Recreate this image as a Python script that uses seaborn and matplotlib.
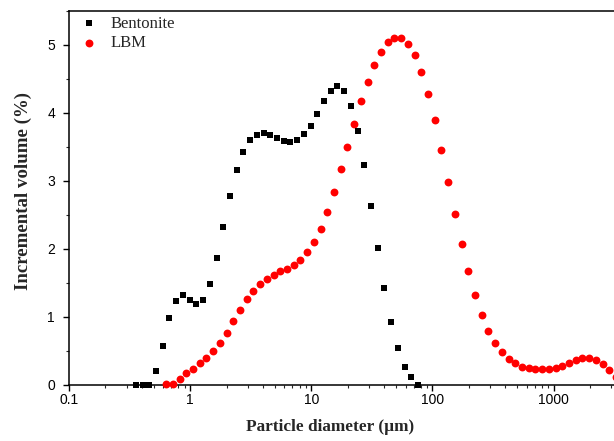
import matplotlib
matplotlib.use("Agg")
import matplotlib.pyplot as plt
import numpy as np
import pandas as pd
import seaborn as sns
from matplotlib.ticker import LogLocator, MultipleLocator, FixedLocator, FixedFormatter, NullFormatter

# ---- data ----
bent_size = [0.357, 0.405, 0.460, 0.523, 0.594, 0.675, 0.767, 0.872, 0.991, 1.125,
             1.279, 1.453, 1.651, 1.876, 2.131, 2.421, 2.751, 3.126, 3.551, 4.035,
             4.584, 5.208, 5.917, 6.723, 7.638, 8.678, 9.859, 11.20, 12.73, 14.46,
             16.43, 18.67, 21.21, 24.10, 27.38, 31.11, 35.34, 40.15, 45.62, 51.83,
             58.89, 66.91, 76.02]
bent_vol = [0.0, 0.0, 0.0, 0.21, 0.58, 0.98, 1.24, 1.32, 1.25, 1.19,
            1.25, 1.49, 1.87, 2.32, 2.78, 3.16, 3.43, 3.60, 3.68, 3.70,
            3.68, 3.63, 3.59, 3.57, 3.60, 3.69, 3.81, 3.99, 4.18, 4.33,
            4.40, 4.33, 4.11, 3.74, 3.23, 2.63, 2.02, 1.43, 0.92, 0.54,
            0.27, 0.12, 0.0]

lbm_size = [0.633, 0.719, 0.818, 0.929, 1.056, 1.199, 1.363, 1.549, 1.760, 2.000,
            2.271, 2.581, 2.932, 3.332, 3.785, 4.301, 4.886, 5.551, 6.307, 7.166,
            8.141, 9.250, 10.51, 11.94, 13.57, 15.41, 17.51, 19.90, 22.61, 25.69,
            29.18, 33.16, 37.67, 42.80, 48.63, 55.25, 62.77, 71.32, 81.03, 92.06,
            104.6, 118.8, 135.0, 153.4, 174.3, 198.0, 225.0, 255.7, 290.5, 330.0,
            375.0, 426.0, 484.0, 549.9, 624.8, 709.9, 806.6, 916.4, 1041, 1183,
            1344, 1527, 1735, 1971, 2239, 2544, 2891, 3285]
lbm_vol = [0.01, 0.02, 0.09, 0.17, 0.24, 0.32, 0.40, 0.50, 0.62, 0.77,
           0.94, 1.11, 1.26, 1.38, 1.48, 1.56, 1.62, 1.67, 1.71, 1.76,
           1.84, 1.95, 2.10, 2.29, 2.54, 2.84, 3.17, 3.50, 3.84, 4.17,
           4.46, 4.71, 4.90, 5.04, 5.11, 5.11, 5.01, 4.85, 4.60, 4.28,
           3.90, 3.46, 2.99, 2.52, 2.07, 1.67, 1.32, 1.03, 0.80, 0.62,
           0.48, 0.38, 0.32, 0.27, 0.25, 0.24, 0.23, 0.23, 0.25, 0.28,
           0.33, 0.37, 0.40, 0.40, 0.37, 0.31, 0.22, 0.12]

x_ticks = [0.1, 1, 10, 100, 1000]
x_tick_labels = ["0.1", "1", "10", "100", "1000"]
y_ticks = [0, 1, 2, 3, 4, 5]
series_names = ["Bentonite", "LBM"]

sns.set_style("ticks")
plt.rcParams["font.family"] = ["Liberation Sans", "DejaVu Sans"]

fig = plt.figure(figsize=(6.14, 4.41), dpi=100)
ax = fig.add_axes([69 / 614, 56 / 441, (614 - 69) / 614, (385 - 11) / 441])

lbm_df = pd.DataFrame({"size": lbm_size, "vol": lbm_vol})
bent_df = pd.DataFrame({"size": bent_size, "vol": bent_vol})

sns.scatterplot(data=lbm_df, x="size", y="vol", marker="o", color="#ff0000",
                s=32, linewidth=0, ax=ax, label=series_names[1], zorder=3)
sns.scatterplot(data=bent_df, x="size", y="vol", marker="s", color="black",
                s=24, linewidth=0, ax=ax, label=series_names[0], zorder=4)
for c in ax.collections:
    c.set_clip_on(False)

ax.set_xscale("log")
ax.set_xlim(0.1, 3158)
ax.set_ylim(0, 5.5)

ax.xaxis.set_major_locator(FixedLocator(x_ticks))
ax.xaxis.set_major_formatter(FixedFormatter(x_tick_labels))
ax.xaxis.set_minor_locator(LogLocator(base=10, subs=np.arange(2, 10), numticks=20))
ax.xaxis.set_minor_formatter(NullFormatter())
ax.yaxis.set_major_locator(FixedLocator(y_ticks))
ax.yaxis.set_minor_locator(MultipleLocator(0.5))

for s in ["left", "bottom", "top"]:
    ax.spines[s].set_linewidth(1.1)
    ax.spines[s].set_color("black")
ax.spines["right"].set_visible(False)

ax.tick_params(axis="both", which="major", direction="out", length=4, width=1,
               labelsize=10, colors="black", top=False, right=False)
ax.tick_params(axis="both", which="minor", direction="out", length=2.5, width=0.8,
               top=False, right=False)
ax.tick_params(axis="x", which="major", pad=1.5)
ax.tick_params(axis="y", which="major", pad=6)

ax.set_xlabel("Particle diameter (\u00b5m)", family="Liberation Serif",
              weight="bold", size=12.4)
ax.set_ylabel("Incremental volume (%)", family="Liberation Serif",
              weight="bold", size=13.6)
ax.xaxis.set_label_coords((330 - 69) / 545, (385 - 427) / 374)
ax.yaxis.set_label_coords((23.5 - 69) / 545, (385 - 191) / 374)
ax.xaxis.label.set_va("center")
ax.xaxis.label.set_ha("center")
ax.yaxis.label.set_va("center")
ax.yaxis.label.set_ha("center")

handles, labels = ax.get_legend_handles_labels()
order = [labels.index(n) for n in series_names]
ax.legend([handles[i] for i in order], [labels[i] for i in order],
          loc="upper left", bbox_to_anchor=(0.002, 0.992), frameon=False,
          prop={"family": "Liberation Serif", "size": 12},
          borderaxespad=0.0, borderpad=0.1, labelspacing=0.22,
          handlelength=2.1, handletextpad=0.2, scatterpoints=1)

ax.grid(False)
fig.savefig("out.png", dpi=100, facecolor="white")
